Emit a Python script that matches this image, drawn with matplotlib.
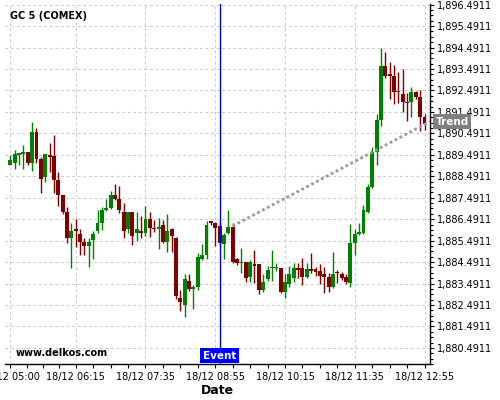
import numpy as np
import matplotlib
matplotlib.use('Agg')
import matplotlib.pyplot as plt
from matplotlib.ticker import FixedLocator, FuncFormatter

# velas de 5 minutos, GC 5 (COMEX), 18/12 05:00 - 12:55
opens = [
    1889.03, 1889.12, 1889.50, 1889.53, 1889.62, 1889.12, 1890.55, 1889.28, 1888.44, 1889.46,
    1889.43, 1888.31, 1887.61, 1886.84, 1885.62, 1886.01, 1885.80, 1885.44, 1885.25, 1885.52,
    1885.94, 1886.32, 1886.91, 1887.01, 1887.61, 1887.43, 1886.82, 1886.01, 1886.82, 1885.83,
    1885.92, 1885.83, 1886.50, 1886.06, 1886.03, 1886.21, 1885.44, 1886.03, 1885.62, 1882.81,
    1882.49, 1883.60, 1883.22, 1883.31, 1884.63, 1884.82, 1886.39, 1886.29, 1886.17, 1885.35,
    1885.83, 1886.11, 1884.63, 1884.43, 1884.48, 1883.78, 1884.38, 1884.38, 1883.18, 1883.70,
    1884.20, 1884.20, 1884.20, 1883.11, 1883.45, 1883.73, 1884.20, 1884.22, 1883.81, 1884.16,
    1884.16, 1884.07, 1883.92, 1883.81, 1883.34, 1884.04, 1883.92, 1883.81, 1883.53, 1885.36,
    1885.80, 1885.83, 1886.84, 1887.97, 1889.63, 1891.11, 1893.63, 1893.26, 1893.16, 1892.48,
    1892.32, 1891.92, 1891.96, 1892.43, 1892.17, 1891.26]
closes = [
    1889.25, 1889.53, 1889.56, 1889.62, 1889.12, 1890.55, 1889.28, 1888.35, 1889.53, 1889.37,
    1888.31, 1887.61, 1886.84, 1885.62, 1885.94, 1885.92, 1885.44, 1885.25, 1885.44, 1885.80,
    1886.32, 1886.91, 1887.01, 1887.61, 1887.43, 1886.91, 1885.95, 1886.82, 1885.72, 1886.01,
    1885.83, 1886.48, 1886.06, 1886.01, 1886.11, 1885.44, 1885.94, 1885.70, 1882.91, 1882.64,
    1883.70, 1883.22, 1883.31, 1884.71, 1884.82, 1886.21, 1886.31, 1886.06, 1885.36, 1885.75,
    1886.11, 1884.50, 1884.43, 1884.48, 1883.73, 1884.48, 1884.32, 1883.18, 1883.57, 1884.12,
    1884.27, 1884.27, 1883.11, 1883.54, 1883.92, 1884.20, 1884.12, 1883.81, 1884.16, 1884.07,
    1884.01, 1883.85, 1883.81, 1883.34, 1883.92, 1883.96, 1883.76, 1883.54, 1885.39, 1885.80,
    1885.90, 1886.91, 1888.00, 1889.63, 1891.11, 1893.63, 1893.16, 1893.16, 1892.43, 1892.42,
    1891.96, 1891.89, 1892.43, 1892.17, 1891.26, 1890.92]
highs = [
    1889.50, 1889.70, 1889.57, 1889.93, 1889.62, 1891.00, 1890.74, 1889.39, 1889.55, 1890.02,
    1890.40, 1888.71, 1887.61, 1887.07, 1886.29, 1886.48, 1886.01, 1885.60, 1885.60, 1885.94,
    1886.91, 1887.04, 1887.41, 1887.79, 1888.13, 1888.03, 1887.23, 1886.84, 1886.84, 1886.82,
    1886.63, 1887.10, 1886.81, 1886.45, 1886.53, 1886.45, 1886.71, 1886.09, 1885.64, 1883.18,
    1883.93, 1883.93, 1883.42, 1884.90, 1885.32, 1886.42, 1886.40, 1886.37, 1886.36, 1885.84,
    1886.91, 1886.29, 1884.68, 1885.16, 1884.49, 1884.58, 1885.05, 1884.40, 1883.92, 1884.32,
    1885.05, 1884.43, 1884.21, 1883.92, 1884.32, 1884.43, 1884.43, 1884.66, 1884.43, 1884.90,
    1884.25, 1884.38, 1884.27, 1883.96, 1884.94, 1884.12, 1884.02, 1883.93, 1886.26, 1886.01,
    1886.29, 1887.15, 1888.13, 1889.84, 1891.39, 1894.45, 1894.29, 1893.83, 1893.67, 1893.36,
    1893.47, 1892.38, 1892.64, 1892.46, 1892.51, 1891.39]
lows = [
    1889.01, 1888.81, 1889.01, 1888.81, 1889.00, 1888.73, 1889.09, 1887.69, 1888.20, 1888.70,
    1887.69, 1887.10, 1886.73, 1885.39, 1884.20, 1885.20, 1884.82, 1884.82, 1884.27, 1884.62,
    1885.86, 1885.98, 1886.88, 1886.98, 1887.38, 1886.79, 1885.60, 1885.83, 1885.28, 1885.48,
    1885.60, 1885.70, 1885.64, 1885.90, 1885.08, 1885.36, 1884.97, 1884.97, 1882.75, 1882.21,
    1881.91, 1883.14, 1882.29, 1883.18, 1884.57, 1884.62, 1886.21, 1885.24, 1885.24, 1884.63,
    1885.80, 1884.43, 1884.35, 1883.96, 1883.57, 1883.54, 1883.51, 1883.01, 1883.11, 1883.60,
    1883.60, 1884.07, 1883.03, 1882.80, 1883.34, 1883.57, 1883.73, 1883.42, 1883.73, 1883.96,
    1883.84, 1883.45, 1883.03, 1883.11, 1883.26, 1883.50, 1883.65, 1883.46, 1883.34, 1884.82,
    1885.77, 1885.80, 1886.77, 1887.93, 1889.01, 1890.83, 1893.05, 1892.08, 1891.86, 1891.89,
    1891.50, 1891.08, 1891.26, 1892.09, 1890.61, 1890.64]

x_tick_pos = [0, 15, 31, 47, 63, 79, 95]
x_tick_labels = ['18/12 05:00', '18/12 06:15', '18/12 07:35', '18/12 08:55',
                 '18/12 10:15', '18/12 11:35', '18/12 12:55']
y_ticks = [1880.4911 + k for k in range(17)]

event_idx = 48
trend_start = (51, 1886.17)
trend_end_price = 1891.04

x_min, x_max = -1.22, 96.26
y_min, y_max = 1879.74, 1896.52

o, h, l, c = map(np.array, (opens, highs, lows, closes))
x = np.arange(len(o))
colores = np.where(c >= o, '#008000', '#800000')

fig = plt.figure(figsize=(5, 4), dpi=100)
ax = fig.add_axes([0.01, 0.09, 0.85, 0.90])

ax.vlines(x, l, h, colors=colores, linewidth=1, zorder=2)
ax.bar(x, np.maximum(np.abs(c - o), 0.04), bottom=np.minimum(o, c), width=0.9,
       color=colores, linewidth=0, zorder=3)

# línea de tendencia
ax.plot([trend_start[0], x_max], [trend_start[1], trend_end_price], color='#999999',
        linestyle=(0, (1, 1)), linewidth=2, zorder=4)
ax.annotate('Trend', xy=(1, trend_end_price), xycoords=('axes fraction', 'data'),
            xytext=(4, 0), textcoords='offset points', ha='left', va='center',
            color='white', fontsize=7.5, fontweight='bold', annotation_clip=False,
            bbox=dict(boxstyle='square,pad=0.2', fc='#808080', ec='none'), zorder=6)

# evento
ax.axvline(event_idx, color='#0000dd', linewidth=1, zorder=5)
ax.annotate('Event', xy=(event_idx, 0), xycoords=('data', 'axes fraction'),
            xytext=(0, 2.5), textcoords='offset points', ha='center', va='bottom',
            color='white', fontsize=7.5, fontweight='bold',
            bbox=dict(boxstyle='square,pad=0.25', fc='#0000ff', ec='none'), zorder=6)

ax.set_xlim(x_min, x_max)
ax.set_ylim(y_min, y_max)

ax.xaxis.set_major_locator(FixedLocator(x_tick_pos))
ax.set_xticklabels(x_tick_labels)
minors = []
for a, b in zip(x_tick_pos[:-1], x_tick_pos[1:]):
    minors += list(np.linspace(a, b, 5)[1:-1])
ax.xaxis.set_minor_locator(FixedLocator(minors))

ax.yaxis.tick_right()
ax.yaxis.set_major_locator(FixedLocator(y_ticks))
ax.yaxis.set_minor_locator(FixedLocator(np.arange(y_ticks[0] - 0.75, y_ticks[-1] + 0.1, 0.25)))
ax.yaxis.set_major_formatter(FuncFormatter(lambda v, p: f'{v:,.4f}'))

ax.tick_params(axis='both', which='both', direction='out', length=3, width=0.8,
               labelsize=7, colors='black')
ax.tick_params(axis='y', which='minor', length=2)
ax.tick_params(axis='x', pad=3)
ax.tick_params(axis='y', pad=2)

for s in ('left', 'top'):
    ax.spines[s].set_visible(False)
for s in ('right', 'bottom'):
    ax.spines[s].set_color('black')
    ax.spines[s].set_linewidth(1)

ax.grid(True, which='major', color='#cccccc', linestyle=(0, (2.5, 2.5)), linewidth=0.8)
ax.set_axisbelow(True)

ax.set_xlabel('Date', fontsize=9, fontweight='bold', labelpad=1)
ax.text(0.012, 0.968, 'GC 5 (COMEX)', transform=ax.transAxes, fontsize=7,
        fontweight='bold', va='center', ha='left')
ax.text(0.024, 0.031, 'www.delkos.com', transform=ax.transAxes, fontsize=7,
        fontweight='bold', va='center', ha='left')

fig.savefig('out.png', dpi=100)
